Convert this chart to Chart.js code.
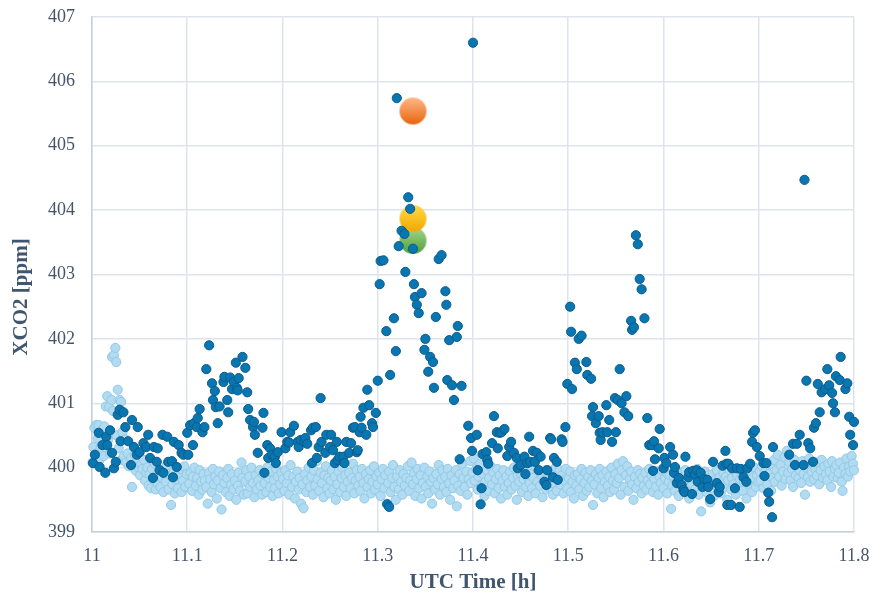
<!DOCTYPE html>
<html>
<head>
<meta charset="utf-8">
<script src="https://cdn.jsdelivr.net/npm/chart.js@4.4.1/dist/chart.umd.min.js"></script>
<style>
  html, body { margin: 0; padding: 0; background: #ffffff; }
  #wrap { width: 872px; height: 596px; position: relative; }
</style>
</head>
<body>
<div id="wrap"><canvas id="c"></canvas></div>
<script>
// Axis tick labels
const xTickLabels = ['11', '11.1', '11.2', '11.3', '11.4', '11.5', '11.6', '11.7', '11.8'];
const yTickLabels = ['399', '400', '401', '402', '403', '404', '405', '406', '407'];

// Near-field sounding (dark blue): UTC time [h] and XCO2 [ppm]
const darkTime = [
  11.001, 11.003, 11.007, 11.008, 11.011, 11.014, 11.015, 11.016, 11.019, 11.021,
  11.023, 11.025, 11.027, 11.029, 11.030, 11.033, 11.035, 11.038, 11.041, 11.042,
  11.044, 11.047, 11.048, 11.050, 11.054, 11.057, 11.059, 11.061, 11.064, 11.065,
  11.068, 11.069, 11.071, 11.074, 11.075, 11.079, 11.080, 11.084, 11.085, 11.086,
  11.089, 11.091, 11.094, 11.096, 11.100, 11.101, 11.103, 11.106, 11.107, 11.110,
  11.111, 11.113, 11.116, 11.118, 11.120, 11.123, 11.126, 11.127, 11.129, 11.130,
  11.132, 11.134, 11.138, 11.139, 11.142, 11.143, 11.145, 11.147, 11.149, 11.151,
  11.152, 11.153, 11.154, 11.158, 11.161, 11.163, 11.164, 11.166, 11.169, 11.170,
  11.171, 11.174, 11.179, 11.180, 11.181, 11.184, 11.185, 11.187, 11.189, 11.192,
  11.193, 11.195, 11.199, 11.203, 11.205, 11.207, 11.208, 11.212, 11.216, 11.217,
  11.219, 11.223, 11.224, 11.226, 11.230, 11.231, 11.232, 11.235, 11.236, 11.238,
  11.240, 11.241, 11.245, 11.246, 11.250, 11.251, 11.253, 11.255, 11.257, 11.258,
  11.260, 11.264, 11.265, 11.267, 11.270, 11.272, 11.274, 11.276, 11.278, 11.279,
  11.281, 11.282, 11.283, 11.285, 11.288, 11.289, 11.291, 11.294, 11.295, 11.298,
  11.300, 11.302, 11.303, 11.306, 11.309, 11.310, 11.312, 11.313, 11.317, 11.319,
  11.320, 11.322, 11.325, 11.328, 11.329, 11.332, 11.334, 11.337, 11.338, 11.339,
  11.341, 11.343, 11.346, 11.349, 11.350, 11.353, 11.355, 11.358, 11.359, 11.361,
  11.364, 11.367, 11.371, 11.372, 11.373, 11.375, 11.378, 11.380, 11.383, 11.384,
  11.386, 11.388, 11.395, 11.398, 11.399, 11.400, 11.404, 11.405, 11.408, 11.409,
  11.410, 11.414, 11.415, 11.416, 11.420, 11.422, 11.425, 11.426, 11.428, 11.430,
  11.433, 11.436, 11.438, 11.440, 11.443, 11.446, 11.447, 11.450, 11.454, 11.455,
  11.457, 11.459, 11.460, 11.463, 11.465, 11.467, 11.469, 11.471, 11.475, 11.477,
  11.478, 11.481, 11.482, 11.484, 11.485, 11.488, 11.489, 11.493, 11.494, 11.497,
  11.499, 11.502, 11.503, 11.504, 11.507, 11.509, 11.511, 11.514, 11.519, 11.520,
  11.524, 11.525, 11.526, 11.529, 11.532, 11.533, 11.534, 11.536, 11.540, 11.541,
  11.543, 11.546, 11.549, 11.550, 11.552, 11.554, 11.556, 11.559, 11.561, 11.563,
  11.566, 11.567, 11.569, 11.571, 11.573, 11.575, 11.577, 11.580, 11.583, 11.585,
  11.588, 11.589, 11.590, 11.591, 11.595, 11.596, 11.600, 11.601, 11.603, 11.607,
  11.610, 11.611, 11.612, 11.614, 11.616, 11.619, 11.621, 11.622, 11.623, 11.626,
  11.627, 11.630, 11.631, 11.633, 11.635, 11.636, 11.639, 11.641, 11.643, 11.646,
  11.647, 11.649, 11.652, 11.656, 11.658, 11.659, 11.662, 11.665, 11.666, 11.667,
  11.668, 11.671, 11.672, 11.675, 11.677, 11.680, 11.681, 11.684, 11.687, 11.688,
  11.691, 11.693, 11.694, 11.696, 11.698, 11.701, 11.705, 11.706, 11.708, 11.710,
  11.711, 11.714, 11.715, 11.732, 11.736, 11.738, 11.740, 11.743, 11.747, 11.748,
  11.750, 11.752, 11.754, 11.757, 11.758, 11.760, 11.762, 11.764, 11.766, 11.770,
  11.772, 11.774, 11.777, 11.778, 11.780, 11.781, 11.785, 11.786, 11.791, 11.793,
  11.795, 11.796, 11.799, 11.800
];
const darkXco2 = [
  400.07, 400.20, 400.54, 400.01, 400.35, 399.92, 400.48, 400.35, 400.58, 400.23,
  399.99, 400.09, 400.82, 400.90, 400.41, 400.86, 400.63, 400.41, 400.04, 400.74,
  400.32, 400.20, 400.63, 400.24, 400.38, 400.32, 400.51, 400.15, 399.84, 400.32,
  400.09, 400.30, 399.96, 400.51, 399.92, 400.48, 400.09, 400.10, 399.85, 400.40,
  400.01, 400.35, 400.23, 400.20, 400.54, 400.20, 400.66, 400.35, 400.69, 400.63,
  400.77, 400.91, 400.55, 400.63, 401.53, 401.90, 401.31, 401.05, 401.19, 400.94,
  400.69, 400.95, 401.33, 401.41, 401.05, 400.86, 401.40, 401.22, 401.33, 401.63,
  401.24, 401.20, 401.39, 401.72, 401.55, 401.17, 400.91, 400.74, 400.63, 400.71,
  400.51, 400.23, 400.62, 400.85, 399.92, 400.35, 400.15, 400.30, 400.20, 400.17,
  400.07, 400.24, 400.55, 400.30, 400.40, 400.39, 400.55, 400.65, 400.40, 400.32,
  400.43, 400.40, 400.46, 400.37, 400.58, 400.07, 400.62, 400.63, 400.15, 400.32,
  401.08, 400.40, 400.23, 400.51, 400.32, 400.51, 400.27, 400.07, 400.40, 400.12,
  400.17, 400.17, 400.07, 400.40, 400.23, 400.38, 400.62, 400.63, 400.24, 400.27,
  400.55, 400.79, 400.62, 400.93, 400.51, 401.21, 400.97, 400.69, 400.63, 400.85,
  401.35, 402.85, 403.21, 403.22, 402.12, 399.43, 399.39, 401.44, 402.32, 401.81,
  405.74, 403.44, 403.68, 403.63, 403.04, 404.20, 404.02, 403.40, 402.85, 402.65,
  402.53, 402.40, 402.71, 401.83, 402.00, 401.49, 401.72, 401.64, 401.24, 402.34,
  403.24, 403.30, 402.74, 402.53, 401.36, 401.98, 401.28, 401.05, 402.03, 402.20,
  400.13, 401.27, 400.65, 400.46, 400.26, 406.60, 400.51, 399.96, 399.43, 399.68,
  400.21, 400.24, 400.12, 400.06, 400.38, 400.80, 400.55, 400.30, 400.54, 400.55,
  400.60, 400.18, 400.32, 400.40, 400.23, 400.15, 399.99, 400.04, 400.17, 399.90,
  400.07, 400.48, 400.09, 400.26, 400.09, 400.23, 399.96, 400.17, 399.78, 399.73,
  399.96, 400.46, 400.44, 399.85, 400.15, 400.09, 399.81, 400.44, 400.40, 400.63,
  401.30, 402.50, 402.11, 401.22, 401.63, 401.53, 402.00, 402.05, 401.64, 401.44,
  401.38, 400.80, 400.94, 400.69, 400.80, 400.54, 400.43, 400.55, 400.97, 400.55,
  400.74, 400.40, 401.08, 400.55, 401.05, 401.53, 401.00, 400.86, 401.11, 400.80,
  402.28, 402.14, 402.18, 403.61, 403.47, 402.93, 402.77, 402.32, 400.77, 400.35,
  400.35, 399.95, 400.41, 400.13, 400.30, 400.60, 399.99, 400.15, 400.07, 400.32,
  400.20, 399.92, 400.01, 399.76, 399.84, 399.73, 399.65, 399.62, 400.17, 399.85,
  399.93, 399.59, 399.95, 399.89, 399.96, 399.78, 399.92, 399.70, 399.82, 399.81,
  399.70, 399.51, 400.09, 399.76, 399.62, 399.70, 400.03, 400.26, 400.06, 399.42,
  400.06, 399.42, 399.99, 399.68, 399.99, 399.39, 399.98, 399.85, 399.78, 399.99,
  400.06, 400.40, 400.54, 400.58, 400.32, 400.18, 400.07, 399.87, 400.07, 399.61,
  399.47, 399.23, 400.32, 400.20, 400.37, 400.04, 400.37, 400.51, 400.04, 404.47,
  401.35, 400.38, 400.30, 400.09, 400.62, 400.69, 401.30, 400.86, 401.17, 401.22,
  401.53, 401.28, 401.16, 401.00, 400.86, 401.42, 401.36, 401.72, 401.22, 401.31,
  400.79, 400.51, 400.35, 400.71
];

// Background sounding (light blue): UTC time [h] and XCO2 [ppm]
const lightTime = [
  11.0005, 11.0015, 11.0025, 11.0035, 11.0045, 11.006, 11.007, 11.008, 11.009,
  11.0105, 11.0115, 11.0125, 11.013, 11.0145, 11.016, 11.017, 11.018, 11.019,
  11.0205, 11.021, 11.022, 11.023, 11.0245, 11.0255, 11.026, 11.027, 11.028, 11.029,
  11.0305, 11.031, 11.032, 11.0335, 11.035, 11.036, 11.0375, 11.039,
  11.041, 11.042, 11.0435, 11.045, 11.046, 11.0475, 11.049,
  11.0505, 11.052, 11.053, 11.0545, 11.0555, 11.057, 11.058, 11.0595,
  11.0605, 11.062, 11.063, 11.0645, 11.066, 11.067, 11.068, 11.0695,
  11.071, 11.072, 11.0735, 11.075, 11.076, 11.0775, 11.079,
  11.0805, 11.082, 11.083, 11.0845, 11.086, 11.087, 11.0885,
  11.090, 11.0915, 11.093, 11.094, 11.0955, 11.097, 11.098, 11.0995,
  11.101, 11.102, 11.1035, 11.105, 11.106, 11.1075, 11.109,
  11.1105, 11.112, 11.113, 11.1145, 11.116, 11.117, 11.1185,
  11.120, 11.1215, 11.123, 11.124, 11.1255, 11.127, 11.128, 11.1295,
  11.131, 11.132, 11.1335, 11.135, 11.136, 11.1375, 11.139,
  11.1405, 11.142, 11.143, 11.1445, 11.146, 11.147, 11.1485,
  11.150, 11.1515, 11.153, 11.154, 11.1555, 11.157, 11.158, 11.1595,
  11.161, 11.162, 11.1635, 11.165, 11.166, 11.1675, 11.169,
  11.1705, 11.172, 11.173, 11.1745, 11.176, 11.177, 11.1785,
  11.180, 11.1815, 11.183, 11.184, 11.1855, 11.187, 11.188, 11.1895,
  11.191, 11.192, 11.1935, 11.195, 11.196, 11.1975, 11.199,
  11.2005, 11.202, 11.203, 11.2045, 11.206, 11.207, 11.2085,
  11.210, 11.2115, 11.213, 11.214, 11.2155, 11.217, 11.218, 11.2195,
  11.221, 11.222, 11.2235, 11.225, 11.226, 11.2275, 11.229,
  11.2305, 11.232, 11.233, 11.2345, 11.236, 11.237, 11.2385,
  11.240, 11.2415, 11.243, 11.244, 11.2455, 11.247, 11.248, 11.2495,
  11.251, 11.252, 11.2535, 11.255, 11.256, 11.2575, 11.259,
  11.2605, 11.262, 11.263, 11.2645, 11.266, 11.267, 11.2685,
  11.270, 11.2715, 11.273, 11.274, 11.2755, 11.277, 11.278, 11.2795,
  11.281, 11.282, 11.2835, 11.285, 11.286, 11.2875, 11.289,
  11.2905, 11.292, 11.293, 11.2945, 11.296, 11.297, 11.2985,
  11.300, 11.3015, 11.303, 11.304, 11.3055, 11.307, 11.308, 11.3095,
  11.311, 11.312, 11.3135, 11.315, 11.316, 11.3175, 11.319,
  11.3205, 11.322, 11.323, 11.3245, 11.326, 11.327, 11.3285,
  11.330, 11.3315, 11.333, 11.334, 11.3355, 11.337, 11.338, 11.3395,
  11.341, 11.342, 11.3435, 11.345, 11.346, 11.3475, 11.349,
  11.3505, 11.352, 11.353, 11.3545, 11.356, 11.357, 11.3585,
  11.360, 11.3615, 11.363, 11.364, 11.3655, 11.367, 11.368, 11.3695,
  11.371, 11.372, 11.3735, 11.375, 11.376, 11.3775, 11.379,
  11.3805, 11.382, 11.383, 11.3845, 11.386, 11.387, 11.3885,
  11.390, 11.3915, 11.393, 11.394, 11.3955, 11.397, 11.398, 11.3995,
  11.401, 11.402, 11.4035, 11.405, 11.406, 11.4075, 11.409,
  11.4105, 11.412, 11.413, 11.4145, 11.416, 11.417, 11.4185,
  11.420, 11.4215, 11.423, 11.424, 11.4255, 11.427, 11.428, 11.4295,
  11.431, 11.432, 11.4335, 11.435, 11.436, 11.4375, 11.439,
  11.4405, 11.442, 11.443, 11.4445, 11.446, 11.447, 11.4485,
  11.450, 11.4515, 11.453, 11.454, 11.4555, 11.457, 11.458, 11.4595,
  11.461, 11.462, 11.4635, 11.465, 11.466, 11.4675, 11.469,
  11.4705, 11.472, 11.473, 11.4745, 11.476, 11.477, 11.4785,
  11.480, 11.4815, 11.483, 11.484, 11.4855, 11.487, 11.488, 11.4895,
  11.491, 11.492, 11.4935, 11.495, 11.496, 11.4975, 11.499,
  11.5005, 11.502, 11.503, 11.5045, 11.506, 11.507, 11.5085,
  11.510, 11.5115, 11.513, 11.514, 11.5155, 11.517, 11.518, 11.5195,
  11.521, 11.522, 11.5235, 11.525, 11.526, 11.5275, 11.529,
  11.5305, 11.532, 11.533, 11.5345, 11.536, 11.537, 11.5385,
  11.540, 11.5415, 11.543, 11.544, 11.5455, 11.547, 11.548, 11.5495,
  11.551, 11.552, 11.5535, 11.555, 11.556, 11.5575, 11.559,
  11.5605, 11.562, 11.563, 11.5645, 11.566, 11.567, 11.5685,
  11.570, 11.5715, 11.573, 11.574, 11.5755, 11.577, 11.578, 11.5795,
  11.581, 11.582, 11.5835, 11.585, 11.586, 11.5875, 11.589,
  11.5905, 11.592, 11.593, 11.5945, 11.596, 11.597, 11.5985,
  11.600, 11.6015, 11.603, 11.604, 11.6055, 11.607, 11.608, 11.6095,
  11.611, 11.612, 11.6135, 11.615, 11.616, 11.6175, 11.619,
  11.6205, 11.622, 11.623, 11.6245, 11.626, 11.627, 11.6285,
  11.630, 11.6315, 11.633, 11.634, 11.6355, 11.637, 11.638, 11.6395,
  11.641, 11.642, 11.6435, 11.645, 11.646, 11.6475, 11.649,
  11.6505, 11.652, 11.653, 11.6545, 11.656, 11.657, 11.6585,
  11.660, 11.6615, 11.663, 11.664, 11.6655, 11.667, 11.668, 11.6695,
  11.671, 11.672, 11.6735, 11.675, 11.676, 11.6775, 11.679,
  11.6805, 11.682, 11.683, 11.6845, 11.686, 11.687, 11.6885,
  11.690, 11.6915, 11.693, 11.694, 11.6955, 11.697, 11.698, 11.6995,
  11.701, 11.702, 11.7035, 11.705, 11.706, 11.7075, 11.709,
  11.7105, 11.712, 11.713, 11.7145, 11.716, 11.717, 11.7185,
  11.720, 11.7215, 11.723, 11.724, 11.7255, 11.727, 11.728, 11.7295,
  11.731, 11.732, 11.7335, 11.735, 11.736, 11.7375, 11.739,
  11.7405, 11.742, 11.743, 11.7445, 11.746, 11.747, 11.7485,
  11.750, 11.7515, 11.753, 11.754, 11.7555, 11.757, 11.758, 11.7595,
  11.761, 11.762, 11.7635, 11.765, 11.766, 11.7675, 11.769,
  11.7705, 11.772, 11.773, 11.7745, 11.776, 11.777, 11.7785,
  11.780, 11.7815, 11.783, 11.784, 11.7855, 11.787, 11.788, 11.7895,
  11.791, 11.792, 11.7935, 11.795, 11.796, 11.7975, 11.799, 11.800
];
const lightXco2 = [
  400.08, 400.32, 400.62, 400.20, 400.66, 400.45, 400.66, 400.12, 400.30,
  400.58, 400.28, 400.18, 400.64, 400.95, 401.11, 400.44, 400.94, 400.22,
  401.05, 401.72, 400.88, 401.75, 401.86, 401.64, 400.50, 401.21, 400.30, 401.05,
  401.02, 400.12, 400.55, 400.18, 400.44, 400.08, 400.22, 400.02,
  400.15, 399.70, 400.02, 400.20, 399.95, 400.10, 400.00,
  399.88, 400.05, 399.98, 400.12, 399.80, 399.92, 400.00, 399.72,
  399.90, 399.68, 399.98, 399.82, 400.06, 399.66, 399.88, 399.74,
  399.96, 399.70, 399.84, 399.62, 399.90, 399.78, 400.04,
  399.66, 399.88, 399.42, 399.74, 399.95, 399.60, 399.82,
  399.68, 399.86, 399.98, 399.62, 399.80, 400.02, 399.70, 399.90,
  400.20, 399.75, 399.92, 399.64, 399.86, 400.00, 399.72,
  399.84, 399.58, 399.96, 399.78, 399.66, 399.90, 399.80,
  399.70, 399.44, 399.92, 399.82, 399.62, 399.98, 399.74, 399.86,
  399.52, 399.80, 399.94, 399.68, 399.35, 399.88, 399.76,
  399.62, 399.84, 399.98, 399.56, 399.74, 399.90, 399.66,
  399.80, 399.50, 399.72, 399.92, 399.64, 400.08, 399.84, 399.58,
  399.78, 399.96, 399.60, 399.86, 399.70, 400.00, 399.76,
  399.54, 399.88, 399.66, 399.80, 399.96, 399.72, 399.58,
  399.90, 399.76, 399.62, 400.00, 399.84, 399.70, 399.94, 399.56,
  399.80, 399.68, 399.98, 399.86, 399.60, 399.74, 399.92,
  399.82, 399.64, 399.96, 399.76, 399.88, 399.58, 400.04,
  399.70, 399.86, 399.52, 399.78, 399.94, 399.66, 399.84, 399.44,
  399.74, 399.37, 399.90, 399.62, 399.80, 400.00, 399.70,
  399.86, 399.58, 399.96, 399.72, 400.10, 399.82, 399.64,
  399.92, 399.76, 399.54, 399.88, 400.02, 399.68, 399.84, 399.60,
  399.80, 399.96, 399.66, 399.86, 399.50, 399.74, 399.94,
  399.62, 399.84, 400.00, 399.70, 399.88, 399.56, 399.78,
  399.92, 399.68, 399.84, 400.06, 399.60, 399.80, 399.96, 399.72,
  399.86, 399.64, 399.98, 399.76, 399.52, 399.90, 399.70,
  399.82, 399.96, 399.60, 399.78, 400.02, 399.66, 399.86,
  399.74, 399.92, 399.56, 399.82, 399.98, 399.68, 399.88, 399.44,
  399.76, 399.94, 399.62, 399.84, 400.04, 399.70, 399.50,
  399.86, 399.66, 399.96, 399.78, 399.58, 399.90, 399.72,
  399.84, 400.02, 399.64, 399.80, 400.08, 399.74, 399.92, 399.56,
  399.82, 399.98, 399.68, 399.88, 399.52, 399.76, 400.00,
  399.70, 399.86, 399.60, 399.94, 399.78, 399.44, 399.84,
  399.66, 399.90, 399.74, 400.04, 399.58, 399.82, 399.96, 399.70,
  399.86, 399.62, 399.98, 399.76, 399.50, 399.88, 399.68,
  399.80, 399.96, 399.40, 399.72, 399.90, 399.64, 400.06,
  399.84, 399.70, 399.94, 399.58, 399.82, 400.10, 399.76, 399.92,
  400.14, 399.80, 399.98, 399.66, 399.86, 400.06, 399.72,
  399.90, 399.56, 399.78, 399.96, 399.64, 399.84, 400.02,
  399.74, 399.92, 399.60, 399.82, 399.98, 399.68, 399.88, 399.52,
  399.80, 399.96, 399.70, 399.86, 399.58, 399.76, 399.94,
  399.66, 399.84, 400.00, 399.72, 399.50, 399.88, 399.78,
  399.92, 399.62, 399.82, 399.98, 399.70, 399.86, 399.56, 399.76,
  399.90, 399.68, 399.84, 400.02, 399.60, 399.78, 399.94,
  399.72, 399.88, 399.54, 399.80, 399.96, 399.66, 399.84,
  399.70, 399.92, 399.76, 399.58, 399.86, 400.00, 399.64, 399.82,
  399.96, 399.74, 399.88, 399.60, 399.80, 399.98, 399.68,
  399.84, 399.94, 399.62, 399.78, 399.52, 399.88, 399.72,
  399.90, 399.66, 399.82, 399.98, 399.56, 399.76, 399.92, 399.64,
  399.86, 399.70, 399.96, 399.80, 399.42, 399.74, 399.90,
  399.60, 399.84, 399.98, 399.68, 399.88, 399.54, 399.78,
  399.94, 399.72, 399.86, 399.62, 400.00, 399.80, 399.66, 399.90,
  399.76, 400.06, 399.84, 399.58, 399.96, 400.10, 399.70,
  399.88, 400.02, 399.64, 399.82, 399.94, 399.74, 399.50,
  399.86, 399.68, 399.96, 399.78, 399.90, 399.60, 399.84, 399.72,
  399.92, 399.66, 399.80, 399.98, 399.74, 399.88, 399.62,
  399.82, 399.70, 399.94, 399.58, 399.86, 399.76, 399.96,
  399.68, 399.84, 399.92, 399.60, 399.78, 399.88, 399.36, 399.72,
  399.86, 399.64, 399.80, 399.94, 399.56, 399.74, 399.90,
  399.70, 399.84, 399.96, 399.62, 399.78, 399.52, 399.88,
  399.74, 399.92, 399.66, 399.82, 399.98, 399.58, 399.80, 399.32,
  399.86, 399.70, 399.94, 399.62, 399.78, 399.88, 399.46,
  399.74, 399.90, 399.56, 399.82, 399.96, 399.68, 399.84,
  399.60, 399.78, 399.92, 399.70, 399.86, 399.50, 399.80, 399.96,
  399.66, 399.84, 399.74, 399.94, 399.58, 399.88, 399.72,
  399.82, 399.98, 399.64, 399.78, 399.90, 399.52, 399.86,
  399.74, 399.92, 399.62, 399.84, 400.00, 399.70, 399.88, 399.78,
  399.94, 399.80, 400.02, 399.68, 399.88, 399.96, 399.74,
  399.90, 400.06, 399.64, 399.84, 400.12, 399.78, 399.96,
  400.20, 399.86, 400.04, 399.72, 399.94, 400.16, 399.82, 400.26,
  399.92, 400.08, 399.80, 399.98, 399.70, 400.12, 399.88,
  400.04, 399.84, 399.96, 399.76, 400.10, 399.90, 399.58,
  400.00, 399.86, 400.14, 399.78, 399.94, 400.06, 399.82, 399.98,
  399.88, 400.08, 399.74, 399.96, 400.12, 399.84, 400.02,
  399.90, 399.80, 400.06, 399.94, 399.70, 400.10, 399.86,
  399.98, 400.04, 399.84, 399.92, 400.08, 399.78, 399.64, 400.00,
  399.90, 400.14, 399.86, 400.02, 399.94, 400.18, 400.06, 399.96
];

// Highlighted single measurements
const orangeTime = [11.337], orangeXco2 = [405.54];
const yellowTime = [11.337], yellowXco2 = [403.87];
const greenTime  = [11.337], greenXco2  = [403.53];

const toPoints = (t, v) => t.map((x, i) => ({ x: x, y: v[i] }));

// Shaded disc used as marker for the highlighted measurements
function shadedDisc(top, bottom, r) {
  const s = Math.ceil(r * 2) + 2;
  const cv = document.createElement('canvas');
  cv.width = s; cv.height = s;
  const g = cv.getContext('2d');
  const grad = g.createLinearGradient(0, s / 2 - r, 0, s / 2 + r);
  grad.addColorStop(0, top);
  grad.addColorStop(1, bottom);
  g.fillStyle = grad;
  g.beginPath();
  g.arc(s / 2, s / 2, r, 0, Math.PI * 2);
  g.fill();
  return cv;
}

const titleColor = '#3f5670';
const tickColor = '#44546a';
const serif = '"Liberation Serif", "Times New Roman", serif';

// Rotated title for the value axis, centred on the full figure height
const yTitlePlugin = {
  id: 'yTitle',
  afterDraw(chart) {
    const ctx = chart.ctx;
    ctx.save();
    ctx.translate(22, 297);
    ctx.rotate(-Math.PI / 2);
    ctx.font = 'bold 21px ' + serif;
    ctx.fillStyle = titleColor;
    ctx.textAlign = 'center';
    ctx.textBaseline = 'middle';
    ctx.fillText('XCO2 [ppm]', 0, 0);
    ctx.restore();
  }
};

new Chart(document.getElementById('c'), {
  type: 'scatter',
  data: {
    datasets: [
      {
        label: 'dark',
        data: toPoints(darkTime, darkXco2),
        backgroundColor: '#0876b0',
        borderColor: '#0d5b8c',
        borderWidth: 1,
        pointRadius: 4.6,
        order: 0,
        clip: false
      },
      {
        label: 'orange',
        data: toPoints(orangeTime, orangeXco2),
        pointStyle: shadedDisc('#ffb887', '#e8650f', 13.5),
        order: 1,
        clip: false
      },
      {
        label: 'yellow',
        data: toPoints(yellowTime, yellowXco2),
        pointStyle: shadedDisc('#ffd84a', '#f2a900', 13.5),
        order: 1,
        clip: false
      },
      {
        label: 'green',
        data: toPoints(greenTime, greenXco2),
        pointStyle: shadedDisc('#a7d78d', '#4f9f3b', 13.5),
        order: 1,
        clip: false
      },
      {
        label: 'light',
        data: toPoints(lightTime, lightXco2),
        backgroundColor: '#b0dbf1',
        borderColor: '#93c9e6',
        borderWidth: 1,
        pointRadius: 4.6,
        order: 2,
        clip: false
      }
    ]
  },
  options: {
    responsive: true,
    maintainAspectRatio: false,
    animation: false,
    devicePixelRatio: 1,
    events: [],
    layout: { padding: { top: 17, right: 18, bottom: 0, left: 0 } },
    plugins: { legend: { display: false }, tooltip: { enabled: false } },
    scales: {
      x: {
        type: 'linear',
        min: 11,
        max: 11.8,
        afterFit(scale) {
          scale.height = 64;
          scale.paddingLeft = 0;
          scale.paddingRight = 0;
        },
        ticks: {
          stepSize: 0.1,
          padding: 13,
          color: tickColor,
          font: { family: serif, size: 18 },
          maxRotation: 0,
          callback: (v) => xTickLabels[Math.round((v - 11) * 10)]
        },
        grid: { color: '#dde4ec', lineWidth: 1.5, drawTicks: false },
        border: { color: '#c3cfdb', width: 1.5 },
        title: {
          display: true,
          text: 'UTC Time [h]',
          color: titleColor,
          font: { family: serif, size: 21, weight: 'bold' },
          padding: { top: 0, bottom: 1 }
        }
      },
      y: {
        type: 'linear',
        min: 399,
        max: 407,
        afterFit(scale) {
          scale.width = 92;
          scale.paddingTop = 0;
          scale.paddingBottom = 0;
        },
        ticks: {
          stepSize: 1,
          padding: 17,
          color: tickColor,
          font: { family: serif, size: 18 },
          callback: (v) => yTickLabels[Math.round(v - 399)]
        },
        grid: { color: '#dde4ec', lineWidth: 1.5, drawTicks: false },
        border: { color: '#c3cfdb', width: 1.5 }
      }
    }
  },
  plugins: [yTitlePlugin]
});
</script>
</body>
</html>
